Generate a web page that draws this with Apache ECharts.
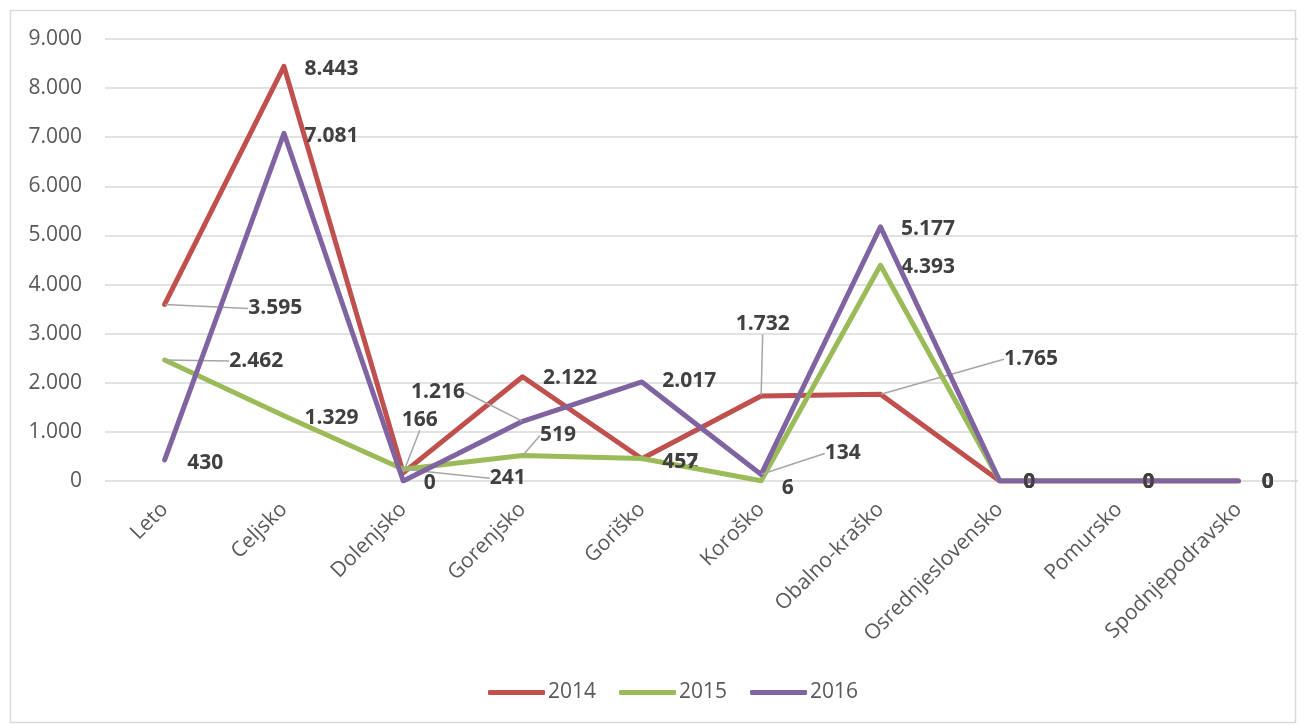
<!DOCTYPE html>
<html>
<head>
<meta charset="utf-8">
<script src="https://cdn.jsdelivr.net/npm/echarts@6/dist/echarts.min.js"></script>
<style>
  html, body { margin: 0; padding: 0; background: #fff; }
  #chart { width: 1306px; height: 725px; }
</style>
</head>
<body>
<div id="chart"></div>
<script>
var categories = ['Leto', 'Celjsko', 'Dolenjsko', 'Gorenjsko', 'Goriško', 'Koroško',
    'Obalno-kraško', 'Osrednjeslovensko', 'Pomursko', 'Spodnjepodravsko'];
var years = ['2014', '2015', '2016'];
var values2014 = [3595, 8443, 166, 2122, 452, 1732, 1765, 0, 0, 0];
var values2015 = [2462, 1329, 241, 519, 457, 6, 4393, 0, 0, 0];
var values2016 = [430, 7081, 0, 1216, 2017, 134, 5177, 0, 0, 0];

// premiki oznak (kot v Excelu, kjer so oznake premaknjene z vodilno črto)
var labelMoves = [
    [[63, 4], [0, 3], [-22, -53], [0, 1], [0, 3], [-46, -72], [103, -35], [3, 1], [3, 1], [3, 1]],
    [[44, 1], [0, 2], [66, 9], [-3, -20], [0, 3], [0, 7], [0, 2], [3, 1], [3, 1], [3, 1]],
    [[2, 3], [0, 3], [0, 2], [-132, -29], [0, -1], [43, -21], [0, 2], [3, 1], [3, 1], [3, 1]]
];
var colors = ['#C0504D', '#9BBB59', '#8064A2'];

function fmt(v) {
    return String(v).replace(/\B(?=(\d{3})+(?!\d))/g, '.');
}

function makeSeries(idx, values) {
    var moves = labelMoves[idx];
    var data = [];
    for (var i = 0; i < values.length; i++) {
        var far = Math.abs(moves[i][0]) > 20 || Math.abs(moves[i][1]) > 15;
        data.push({
            value: values[i],
            labelLine: { show: far }
        });
    }
    return {
        name: years[idx],
        type: 'line',
        data: data,
        symbol: 'circle',
        symbolSize: 1,
        showSymbol: true,
        lineStyle: { width: 5, color: colors[idx], cap: 'round', join: 'round' },
        itemStyle: { color: colors[idx] },
        label: {
            show: true,
            position: 'right',
            distance: 20,
            fontFamily: 'Open Sans',
            fontWeight: 'bold',
            fontSize: 21,
            color: '#404040',
            formatter: function (p) { return fmt(p.value); }
        },
        labelLine: {
            lineStyle: { color: '#a6a6a6', width: 1.5 }
        },
        labelLayout: function (p) {
            var m = moves[p.dataIndex];
            return { dx: m[0], dy: m[1] };
        },
        emphasis: { disabled: true },
        z: 2 + idx
    };
}

var chart = echarts.init(document.getElementById('chart'));
var option = {
    animation: false,
    color: colors,
    graphic: [{
        type: 'rect',
        shape: { x: 10.5, y: 10.5, width: 1285, height: 712 },
        style: { fill: 'none', stroke: '#d9d9d9', lineWidth: 1.5 },
        silent: true
    }],
    grid: { left: 105, right: 8, top: 39, bottom: 244 },
    legend: {
        bottom: 17,
        left: 483,
        icon: 'roundRect',
        itemWidth: 57,
        itemHeight: 5,
        itemGap: 23,
        textStyle: { fontFamily: 'Open Sans', fontSize: 21, color: '#595959', padding: [0, 0, 0, -2] },
        data: years
    },
    xAxis: {
        type: 'category',
        data: categories,
        boundaryGap: true,
        axisLine: { show: false },
        axisTick: { show: false },
        axisLabel: {
            rotate: 45,
            margin: 25,
            interval: 0,
            fontFamily: 'Open Sans',
            fontSize: 21,
            color: '#595959'
        }
    },
    yAxis: {
        type: 'value',
        min: 0,
        max: 9000,
        interval: 1000,
        axisLine: { show: false },
        axisTick: { show: false },
        splitLine: { lineStyle: { color: '#d9d9d9', width: 1.5 } },
        axisLabel: {
            margin: 23,
            fontFamily: 'Open Sans',
            fontSize: 21,
            color: '#595959',
            formatter: function (v) { return fmt(v); }
        }
    },
    series: [
        makeSeries(0, values2014),
        makeSeries(1, values2015),
        makeSeries(2, values2016)
    ]
};
chart.setOption(option);
</script>
</body>
</html>
